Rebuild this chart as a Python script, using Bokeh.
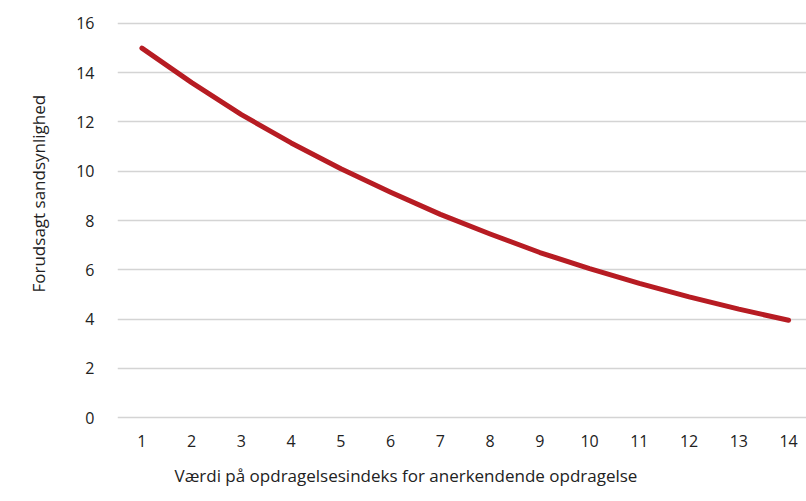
from bokeh.plotting import figure
from bokeh.models import Range1d, FixedTicker, ColumnDataSource, Title
from bokeh.embed import file_html
from bokeh.resources import INLINE

x_values = [1, 2, 3, 4, 5, 6, 7, 8, 9, 10, 11, 12, 13, 14]
predicted = [15.0, 13.6, 12.3, 11.15, 10.1, 9.15, 8.25, 7.45, 6.7, 6.05, 5.45, 4.9, 4.4, 3.95]
y_ticks = [0, 2, 4, 6, 8, 10, 12, 14, 16]
x_title = "Værdi på opdragelsesindeks for anerkendende opdragelse"
y_title = "Forudsagt sandsynlighed"

FONT = "Open Sans"
TXT = "#222222"

src = ColumnDataSource(dict(x=x_values, y=predicted))

p = figure(width=806, height=501, output_backend="svg", toolbar_location=None,
           x_range=Range1d(0.509, 14.36), y_range=Range1d(-0.08, 16.08),
           min_border_left=115, min_border_right=0, min_border_top=21, min_border_bottom=82)
p.outline_line_color = None
p.background_fill_color = "white"
p.border_fill_color = "white"

p.line("x", "y", source=src, line_color="#B71C23", line_width=5, line_cap="round", line_join="round")

p.xgrid.grid_line_color = None
p.ygrid.grid_line_color = "#d4d4d4"
p.ygrid.grid_line_width = 1.5
p.ygrid.ticker = FixedTicker(ticks=y_ticks)

for ax in (p.xaxis[0], p.yaxis[0]):
    ax.axis_line_color = None
    ax.major_tick_line_color = None
    ax.minor_tick_line_color = None
    ax.major_label_text_font = FONT
    ax.major_label_text_font_size = "16px"
    ax.major_label_text_color = TXT

p.xaxis.ticker = FixedTicker(ticks=x_values)
p.yaxis.ticker = FixedTicker(ticks=y_ticks)
p.xaxis.major_label_standoff = 9
p.yaxis.major_label_standoff = 17

tx = Title(text=x_title, align="left", offset=57, standoff=24,
           text_font=FONT, text_font_size="17px", text_font_style="normal", text_color=TXT)
ty = Title(text=y_title, align="left", offset=127, standoff=48,
           text_font=FONT, text_font_size="17px", text_font_style="normal", text_color=TXT)
p.add_layout(tx, "below")
p.add_layout(ty, "left")

open("out.html", "w").write(file_html(p, INLINE))
